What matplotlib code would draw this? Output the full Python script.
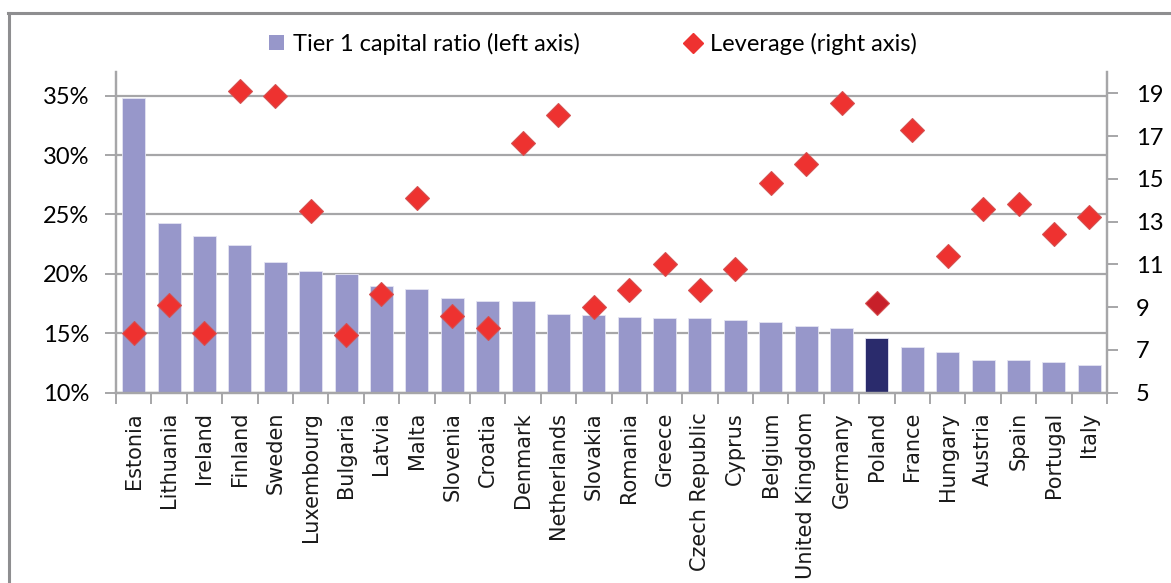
import matplotlib
matplotlib.use("Agg")
import matplotlib.pyplot as plt
from matplotlib.lines import Line2D
from matplotlib.patches import Patch
import numpy as np

countries = ["Estonia", "Lithuania", "Ireland", "Finland", "Sweden", "Luxembourg",
             "Bulgaria", "Latvia", "Malta", "Slovenia", "Croatia", "Denmark",
             "Netherlands", "Slovakia", "Romania", "Greece", "Czech Republic",
             "Cyprus", "Belgium", "United Kingdom", "Germany", "Poland", "France",
             "Hungary", "Austria", "Spain", "Portugal", "Italy"]
tier1 = [34.8, 24.3, 23.2, 22.45, 21.0, 20.2, 20.0, 19.0, 18.75, 18.0, 17.7, 17.7,
         16.6, 16.5, 16.4, 16.3, 16.3, 16.1, 15.95, 15.6, 15.4, 14.6, 13.8, 13.4,
         12.7, 12.7, 12.6, 12.3]
leverage = [7.8, 9.1, 7.8, 19.1, 18.9, 13.5, 7.7, 9.6, 14.1, 8.6, 8.0, 16.7,
            18.0, 9.0, 9.8, 11.0, 9.8, 10.8, 14.8, 15.7, 18.55, 9.2, 17.3, 11.4,
            13.6, 13.8, 12.4, 13.2]
highlight = "Poland"

left_ticks = [10, 15, 20, 25, 30, 35]
right_ticks = [5, 7, 9, 11, 13, 15, 17, 19]

bar_col = "#9797CA"
hl_col = "#2A2B6C"
dia_col = "#EE3230"
dia_hl = "#C8202A"
grid_col = "#A6A6A8"

W, H = 1171, 583
fig = plt.figure(figsize=(W / 100, H / 100), dpi=100)
ax = fig.add_axes([116 / W, 1 - 392.5 / H, (1107 - 116) / W, (392.5 - 72) / H])
ax2 = ax.twinx()

x = np.arange(len(countries))
colors = [hl_col if c == highlight else bar_col for c in countries]
ax.bar(x, tier1, width=0.65, color=colors, edgecolor="#E4E4F2", linewidth=0.6,
       zorder=2)
ax.set_ylim(10, 37)
ax.set_xlim(-0.5, len(countries) - 0.5)
ax.set_yticks(left_ticks)
ax.set_yticklabels([f"{t}%" for t in left_ticks])
ax.yaxis.grid(True, color=grid_col, linewidth=1.6, zorder=0)
ax.set_axisbelow(True)

ax.set_xticks(x)
ax.set_xticklabels(countries, rotation=90, fontsize=15, family="DejaVu Sans",
                   va="top", ha="center", color="#1a1a1a")
ax.set_xticks(np.arange(-0.5, len(countries)), minor=True)
ax.tick_params(axis="x", which="major", length=0, pad=14)
ax.tick_params(axis="x", which="minor", length=8, width=1.4, color=grid_col)
ax.tick_params(axis="y", length=8, width=1.4, color=grid_col, labelsize=17,
               pad=11)
for lab in ax.get_yticklabels():
    lab.set_family("Lato")

for a in (ax, ax2):
    a.spines["top"].set_visible(False)
    for s in ("left", "right", "bottom"):
        a.spines[s].set_color(grid_col)
        a.spines[s].set_linewidth(1.6)

mk = dict(marker="D", markersize=12, linestyle="none", zorder=3)
for i, c in enumerate(countries):
    fc = dia_hl if c == highlight else dia_col
    ax2.plot(x[i], leverage[i], markerfacecolor=fc, markeredgecolor="#D45050",
             markeredgewidth=0.8, **mk)
ax2.set_ylim(5, 20)
ax2.set_yticks(right_ticks)
ax2.tick_params(axis="y", length=8, width=1.4, color=grid_col, labelsize=17,
                pad=13)
for lab in ax2.get_yticklabels():
    lab.set_family("Lato")

handles = [Patch(facecolor=bar_col, edgecolor="none"),
           Line2D([], [], marker="D", markersize=10, linestyle="none",
                  markerfacecolor=dia_col, markeredgecolor=dia_col)]
labels = ["Tier 1 capital ratio (left axis)", "Leverage (right axis)"]
fig.legend(handles, labels, loc="center", bbox_to_anchor=(593 / W, 1 - 44 / H),
           ncol=2, frameon=False, prop={"family": "Lato", "size": 17},
           handlelength=0.6, handleheight=0.6, handletextpad=0.4,
           columnspacing=4.5)

# chart frame
fig.add_artist(Line2D([8 / W, 1], [1 - 12.5 / H] * 2, color="#8E8E90",
                      linewidth=2.2, transform=fig.transFigure))
fig.add_artist(Line2D([9 / W] * 2, [0, 1 - 12.5 / H], color="#8E8E90",
                      linewidth=2.2, transform=fig.transFigure))

fig.savefig("out.png", dpi=100)
